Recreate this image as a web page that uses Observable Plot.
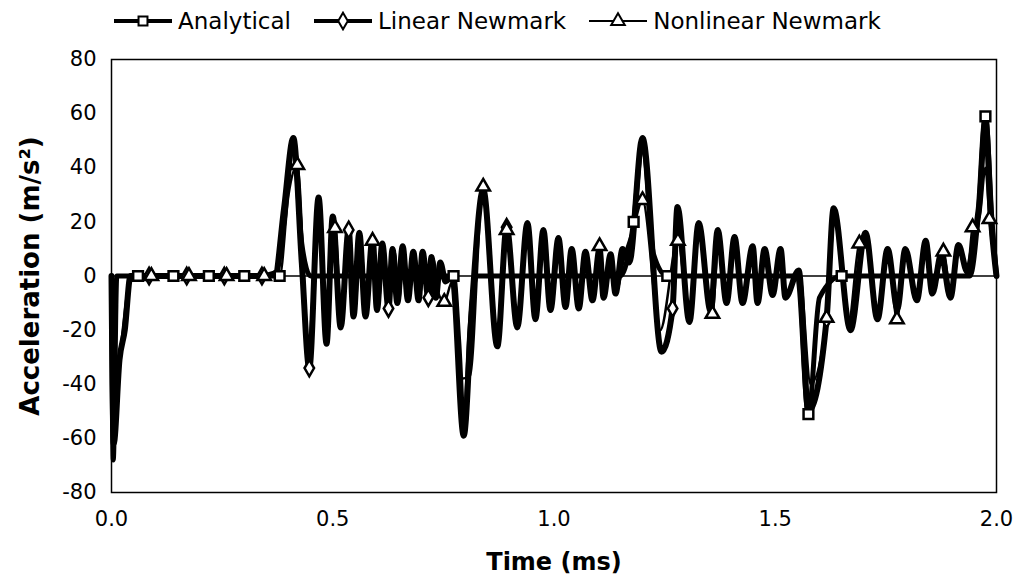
<!DOCTYPE html>
<html>
<head>
<meta charset="utf-8">
<script src="https://cdn.jsdelivr.net/npm/d3@7"></script>
<script src="https://cdn.jsdelivr.net/npm/@observablehq/plot@0.6"></script>
<style>
  html, body { margin: 0; padding: 0; background: white; }
  #wrap { width: 1019px; height: 582px; position: relative; font-family: "DejaVu Sans", Verdana, sans-serif; }
  #legend { height: 42px; display: flex; align-items: center; padding-left: 113px; font-size: 23px; color: black; }
  .item { display: flex; align-items: center; margin-right: 22px; }
  .item span { margin-left: 5px; }
</style>
</head>
<body>
<div id="wrap">
  <div id="legend"></div>
  <div id="chart"></div>
</div>
<script>
// ---- data (time in ms, acceleration in m/s^2) ----
const seriesNames = ["Analytical", "Linear Newmark", "Nonlinear Newmark"];
const xTicks = [0, 0.5, 1.0, 1.5, 2.0];
const yTicks = [-80, -60, -40, -20, 0, 20, 40, 60, 80];

const analytical = [
  [0, 0], [0.004, -68], [0.012, 0], [0.06, 0], [0.14, 0], [0.22, 0], [0.30, 0], [0.37, 0],
  [0.39, 20], [0.411, 50], [0.43, 12], [0.45, 0], [0.55, 0], [0.65, 0], [0.773, 0],
  [0.785, -25], [0.797, -58], [0.81, -20], [0.825, 0], [0.95, 0], [1.05, 0], [1.15, 0],
  [1.18, 20], [1.20, 50], [1.225, 8], [1.256, 0], [1.35, 0], [1.45, 0], [1.55, 0],
  [1.575, -51], [1.60, -8], [1.65, 0], [1.75, 0], [1.85, 0], [1.94, 0], [1.96, 25],
  [1.975, 59], [1.99, 20], [2.0, 0]
];

const linearNewmark = [
  [0, 0], [0.005, -62], [0.018, -31], [0.03, -20], [0.043, 0], [0.085, 0], [0.17, 0], [0.255, 0],
  [0.34, 0], [0.37, 1], [0.39, 25], [0.411, 51], [0.43, 5], [0.447, -34], [0.468, 29],
  [0.486, -25], [0.50, 22], [0.518, -19], [0.536, 17], [0.547, -15], [0.56, 16], [0.574, -15],
  [0.59, 14], [0.60, -12.6], [0.612, 12], [0.626, -12], [0.635, 10], [0.646, -10], [0.658, 11],
  [0.67, -9], [0.682, 9], [0.694, -9], [0.703, 9], [0.716, -8], [0.723, 7], [0.733, -8],
  [0.743, 5], [0.755, -2], [0.77, 0], [0.796, -59], [0.815, -10], [0.84, 32], [0.872, -26],
  [0.893, 18], [0.917, -19], [0.94, 19.6], [0.958, -16], [0.976, 17], [0.992, -12.6],
  [1.01, 14], [1.026, -11.5], [1.04, 10], [1.056, -12], [1.071, 9], [1.087, -9], [1.103, 10],
  [1.112, -8], [1.128, 8], [1.139, -6.5], [1.155, 10], [1.17, 5], [1.20, 51], [1.243, -28],
  [1.268, -12], [1.279, 25.5], [1.306, -17], [1.327, 19.6], [1.354, -13], [1.37, 17],
  [1.39, -10], [1.408, 14.4], [1.426, -10], [1.449, 11], [1.46, -10], [1.476, 10], [1.494, -7],
  [1.512, 10], [1.523, -8], [1.553, 2], [1.575, -50], [1.616, -16], [1.632, 25], [1.67, -20],
  [1.704, 16], [1.731, -16], [1.754, 10], [1.776, -12], [1.794, 10], [1.82, -9], [1.84, 13],
  [1.855, -6.5], [1.875, 8], [1.896, -8], [1.914, 11.5], [1.934, 1.5], [1.946, 10], [1.96, 25],
  [1.975, 58], [1.988, 20], [2.0, 0]
];

const nonlinearNewmark = [
  [0, 0], [0.006, -50], [0.02, -28], [0.045, 0], [0.09, 0], [0.175, 0], [0.26, 0], [0.345, 0],
  [0.38, 0], [0.40, 30], [0.42, 41], [0.445, -25], [0.468, 24], [0.486, -20], [0.505, 17.7],
  [0.52, -16], [0.537, 15], [0.55, -13], [0.563, 14], [0.576, -13], [0.59, 13], [0.603, -11],
  [0.615, 11], [0.628, -10], [0.64, 9], [0.65, -9], [0.66, 9], [0.672, -8], [0.685, 8],
  [0.697, -7], [0.707, 7], [0.718, -7], [0.728, 6], [0.738, -6], [0.752, -9.6], [0.77, -2],
  [0.79, -38], [0.81, -37], [0.84, 33], [0.87, -22], [0.893, 17], [0.915, -17], [0.94, 17],
  [0.96, -14], [0.978, 15], [0.995, -11], [1.012, 12], [1.028, -10], [1.042, 9], [1.058, -10],
  [1.073, 8], [1.088, -8], [1.103, 11], [1.115, -7], [1.13, 7], [1.142, -5], [1.16, 8],
  [1.18, 18], [1.20, 28], [1.24, -20], [1.28, 13], [1.305, -15], [1.328, 17], [1.358, -14],
  [1.372, 14], [1.392, -9], [1.41, 12], [1.428, -9], [1.45, 10], [1.462, -9], [1.478, 9],
  [1.496, -6], [1.514, 9], [1.525, -7], [1.555, 1], [1.58, -40], [1.616, -15.5], [1.635, 22],
  [1.665, -18], [1.69, 12], [1.705, 14], [1.73, -14], [1.755, 9], [1.775, -16], [1.795, 9],
  [1.82, -8], [1.84, 11], [1.857, -6], [1.88, 9], [1.897, -7], [1.915, 10], [1.934, 1],
  [1.946, 18], [1.962, 22], [1.975, 40], [1.984, 21], [2.0, 0]
];

const analyticalMarkers = [
  [0.06, 0], [0.14, 0], [0.22, 0], [0.30, 0], [0.38, 0], [0.773, 0], [1.18, 20], [1.256, 0],
  [1.575, -51], [1.65, 0], [1.975, 59]
];
const linearMarkers = [
  [0.085, 0], [0.17, 0], [0.255, 0], [0.34, 0], [0.447, -34], [0.536, 17], [0.626, -12],
  [0.716, -8], [0.893, 18], [1.268, -12], [1.616, -16]
];
const nonlinearMarkers = [
  [0.09, 0], [0.175, 0], [0.26, 0], [0.345, 0], [0.42, 41], [0.505, 17.7], [0.59, 13],
  [0.752, -9.6], [0.84, 33], [0.893, 17], [1.103, 11], [1.20, 28], [1.28, 13], [1.358, -14],
  [1.616, -15.5], [1.69, 12], [1.775, -16], [1.88, 9], [1.946, 18], [1.984, 21]
];

// ---- legend ----
const legendStyles = [
  {w: 4, sym: d3.symbolSquare},
  {w: 4, sym: d3.symbolDiamond},
  {w: 2, sym: d3.symbolTriangle}
];
const legend = d3.select("#legend");
seriesNames.forEach((name, i) => {
  const it = legend.append("div").attr("class", "item");
  const s = it.append("svg").attr("width", 60).attr("height", 20);
  s.append("line").attr("x1", 1).attr("x2", 59).attr("y1", 10).attr("y2", 10)
    .attr("stroke", "black").attr("stroke-width", legendStyles[i].w);
  s.append("path").attr("d", d3.symbol(legendStyles[i].sym, 80)())
    .attr("transform", "translate(30,10)").attr("fill", "white")
    .attr("stroke", "black").attr("stroke-width", 2);
  it.append("span").text(name);
});

// ---- chart ----
const X = d => d[0], Y = d => d[1];
const chart = Plot.plot({
  width: 1019,
  height: 540,
  marginTop: 17,
  marginBottom: 90,
  marginLeft: 111,
  marginRight: 23,
  style: {fontFamily: "DejaVu Sans, Verdana, sans-serif", fontSize: "21px", color: "black", background: "white"},
  x: {domain: [0, 2]},
  y: {domain: [-80, 80]},
  marks: [
    Plot.frame({stroke: "black", strokeWidth: 1.5}),
    Plot.ruleY([0], {stroke: "black", strokeWidth: 1.3}),
    Plot.axisX({ticks: xTicks, tickFormat: d3.format(".1f"), tickSize: 0, tickPadding: 19, fontSize: 21, label: null}),
    Plot.axisY({ticks: yTicks, tickFormat: d => String(d), tickSize: 0, tickPadding: 15, fontSize: 21, label: null}),
    Plot.text(["Time (ms)"], {frameAnchor: "bottom", dy: 77, fontWeight: "bold", fontSize: 24}),
    Plot.text(["Acceleration (m/s²)"], {frameAnchor: "left", textAnchor: "middle", dx: -81, rotate: -90, fontWeight: "bold", fontSize: 26}),
    Plot.line(analytical, {x: X, y: Y, curve: "monotone-x", stroke: "black", strokeWidth: 5, strokeLinejoin: "round"}),
    Plot.line(linearNewmark, {x: X, y: Y, curve: "monotone-x", stroke: "black", strokeWidth: 6, strokeLinejoin: "round"}),
    Plot.line(nonlinearNewmark, {x: X, y: Y, curve: "monotone-x", stroke: "black", strokeWidth: 2.5}),
    Plot.dot(analyticalMarkers, {x: X, y: Y, symbol: "square", r: 5.5, fill: "white", stroke: "black", strokeWidth: 2.5}),
    Plot.dot(linearMarkers, {x: X, y: Y, symbol: "diamond", r: 5, fill: "white", stroke: "black", strokeWidth: 2.5}),
    Plot.dot(nonlinearMarkers, {x: X, y: Y, symbol: "triangle", r: 5, fill: "white", stroke: "black", strokeWidth: 2.5})
  ]
});
document.getElementById("chart").appendChild(chart);
</script>
</body>
</html>
